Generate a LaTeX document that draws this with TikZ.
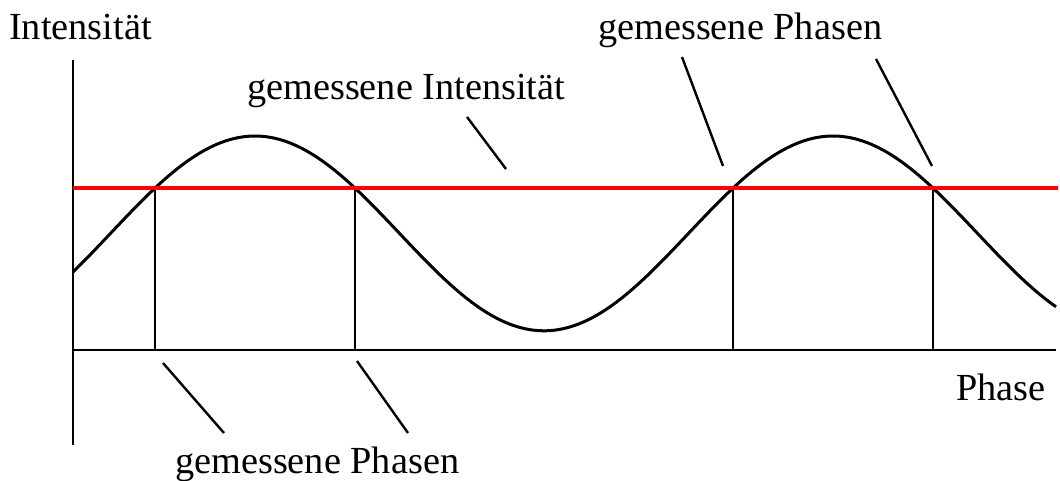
\documentclass[tikz,border=0pt]{standalone}
\usepackage{fontspec}
\setmainfont{Liberation Serif}
\begin{document}
\begin{tikzpicture}[x=1pt,y=-1pt,
  lbl/.style={anchor=base west, inner sep=0pt, font=\fontsize{38.3}{40}\selectfont},
  axisline/.style={line width=2.6pt, black},
  curveline/.style={line width=3pt, black},
  leadline/.style={line width=2.4pt, black},
  dropline/.style={line width=2.6pt, black},
  levelline/.style={line width=4pt, red}]
\useasboundingbox (0,0) rectangle (1060,481);
% axes
\coordinate (ytop) at (73,60);
\coordinate (ybot) at (73,445);
\coordinate (o) at (73,350);
\coordinate (xend) at (1056,350);
\draw[axisline] (ytop) -- (ybot);
\draw[axisline] (o) -- (xend);
% curve
\draw[curveline] plot[domain=73:1056, samples=250, smooth] (\x, {233.4-97.4*cos(0.622837*(\x-255))});
% level
\coordinate (l0) at (73,188);
\coordinate (l1) at (1058,188);
\draw[levelline] (l0) -- (l1);
% intersections
\foreach \i/\xx in {1/155,2/355,3/733,4/933} {
  \coordinate (p\i) at (\xx,190);
  \coordinate (q\i) at (\xx,350);
  \draw[dropline] (p\i) -- (q\i);
}
% labels
\node[lbl] (ylab) at (9,40) {Intensität};
\node[lbl] (xlab) at (956,400) {Phase};
\node[lbl] (gi) at (247,100) {gemessene Intensität};
\node[lbl] (gpt) at (598,40) {gemessene Phasen};
\node[lbl] (gpb) at (175,473) {gemessene Phasen};
% leader lines
\coordinate (a1) at (467,117); \coordinate (a2) at (506,169);
\draw[leadline] (a1) -- (a2);
\coordinate (b1) at (682,57); \coordinate (b2) at (723,166);
\draw[leadline] (b1) -- (b2);
\coordinate (c1) at (876,59); \coordinate (c2) at (932,166);
\draw[leadline] (c1) -- (c2);
\coordinate (d1) at (163,363); \coordinate (d2) at (224,433);
\draw[leadline] (d1) -- (d2);
\coordinate (e1) at (357,361); \coordinate (e2) at (408,433);
\draw[leadline] (e1) -- (e2);
\end{tikzpicture}
\end{document}
